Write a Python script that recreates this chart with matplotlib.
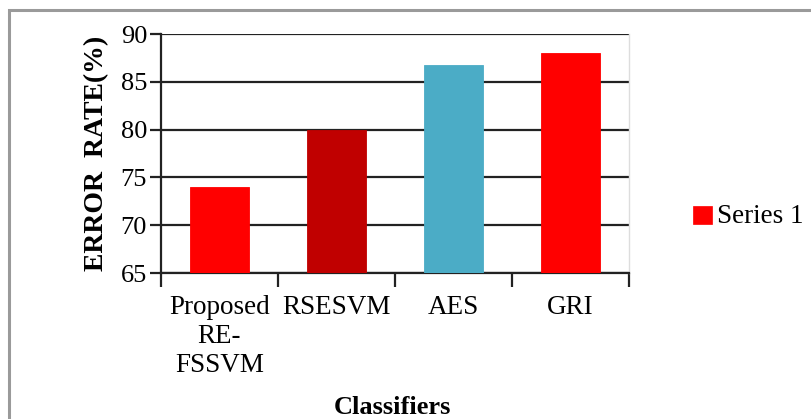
import matplotlib
matplotlib.use("Agg")
import matplotlib.pyplot as plt
from matplotlib.patches import Rectangle

categories = ["Proposed\nRE-\nFSSVM", "RSESVM", "AES", "GRI"]
error_rate = [74, 80, 86.8, 88]
bar_colors = ["#FF0000", "#C00000", "#4BACC6", "#FF0000"]
series_name = "Series 1"

W, H = 812, 419
plt.rcParams["font.family"] = ["Liberation Serif", "DejaVu Serif"]
fig = plt.figure(figsize=(W / 100, H / 100), dpi=100)

# outer frame of the figure panel
fig.patches.append(Rectangle((9.5 / W, -0.1), 1.2, (H - 10.5) / H + 0.1,
                             transform=fig.transFigure, fill=False,
                             edgecolor="#9a9a9a", linewidth=2.2, zorder=0))

ax = fig.add_axes([161 / W, (H - 273) / H, (629 - 161) / W, (273 - 34) / H])
x = list(range(len(categories)))
ax.bar(x, error_rate, width=0.5, color=bar_colors, edgecolor=bar_colors,
       linewidth=0.6, zorder=3)
ax.set_xlim(-0.5, len(categories) - 0.5)
ax.set_ylim(65, 90)
ax.set_yticks([65, 70, 75, 80, 85, 90])

ax.grid(axis="y", color="#222222", linewidth=1.6, zorder=1)
ax.set_axisbelow(True)
ax.spines["top"].set_visible(False)
ax.spines["right"].set_color("#dddddd")
ax.spines["right"].set_linewidth(1.0)
for s in ["left", "bottom"]:
    ax.spines[s].set_color("#222222")
    ax.spines[s].set_linewidth(1.6)

ax.set_xticks(x)
ax.set_xticklabels(categories, fontsize=19.5, linespacing=1.2, va="top")
ax.set_xticks([i - 0.5 for i in range(len(categories) + 1)], minor=True)
ax.tick_params(axis="x", which="major", length=0, pad=16)
ax.tick_params(axis="x", which="minor", length=10, width=1.6, color="#222222")
ax.tick_params(axis="y", length=8, width=1.6, color="#222222", labelsize=19, pad=2)

ax.set_ylabel("ERROR  RATE(%)", fontsize=20, fontweight="bold", labelpad=8)
fig.text(392 / W, 1 - 407 / H, "Classifiers", fontsize=19, fontweight="bold",
         ha="center", va="center")

# single-entry legend on the right
fig.patches.append(Rectangle((693 / W, 1 - 224 / H), 19 / W, 18 / H,
                             transform=fig.transFigure, facecolor="#FF0000",
                             edgecolor="#FF0000", linewidth=0.5))
fig.text(717 / W, 1 - 216 / H, series_name, fontsize=19.5,
         ha="left", va="center")

fig.savefig("out.png", dpi=100)
